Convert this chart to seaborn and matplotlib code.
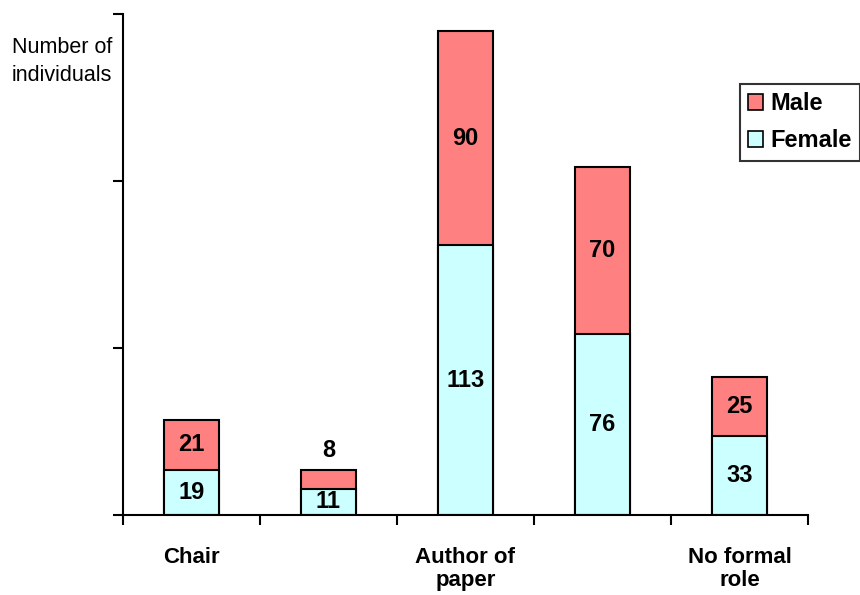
import matplotlib
matplotlib.use("Agg")
import matplotlib.pyplot as plt
import seaborn as sns
import pandas as pd
import numpy as np
from matplotlib.patches import Patch

# Roles and head counts by gender
roles = ["Chair", "", "Author of\npaper", "", "No formal\nrole"]
female = [19, 11, 113, 76, 33]
male = [21, 8, 90, 70, 25]
y_ticks = [0, 70, 140, 210]

MALE_COLOR = "#FF8080"
FEMALE_COLOR = "#CCFFFF"

sns.set_theme(style="white")
plt.rcParams["font.family"] = ["Liberation Sans", "DejaVu Sans"]
plt.rcParams["text.color"] = "black"
plt.rcParams["xtick.color"] = "black"
plt.rcParams["ytick.color"] = "black"

df = pd.DataFrame({
    "role": [f"r{i}" for i in range(len(roles))],
    "female": female,
    "male": male,
})
df["total"] = df["female"] + df["male"]

fig = plt.figure(figsize=(8.6, 5.95), dpi=100)
ax = fig.add_axes([0.143, 0.1345, 0.7965, 0.842])

# Stacked bars: full height in the male colour, female part drawn over it
sns.barplot(data=df, x="role", y="total", color=MALE_COLOR, width=0.4,
            edgecolor="black", linewidth=1.5, saturation=1, ax=ax)
sns.barplot(data=df, x="role", y="female", color=FEMALE_COLOR, width=0.4,
            edgecolor="black", linewidth=1.5, saturation=1, ax=ax)

ax.set_xlim(-0.5, len(roles) - 0.5)
ax.set_ylim(0, y_ticks[-1])
ax.set_yticks(y_ticks)
ax.set_yticklabels([])
ax.set_xticks(range(len(roles)))
ax.set_xticklabels(roles, fontsize=16, fontweight="bold", color="black",
                   linespacing=1.1)
ax.tick_params(axis="x", which="major", length=0, pad=23)
ax.set_xticks(np.arange(-0.5, len(roles)), minor=True)
ax.tick_params(axis="x", which="minor", length=7, width=1.5, color="black",
               direction="out", bottom=True)
ax.tick_params(axis="y", which="major", length=7, width=1.5, color="black",
               direction="out", left=True)
ax.set_xlabel("")
ax.set_ylabel("")
for side in ["top", "right"]:
    ax.spines[side].set_visible(False)
for side in ["left", "bottom"]:
    ax.spines[side].set_color("black")
    ax.spines[side].set_linewidth(1.5)

# Segment value labels
for i, (f, m) in enumerate(zip(female, male)):
    ax.text(i, f / 2, str(f), ha="center", va="center",
            fontsize=17, fontweight="bold", color="black")
    if m < 12:
        ax.text(i, f + m + 8, str(m), ha="center", va="center",
                fontsize=17, fontweight="bold", color="black")
    else:
        ax.text(i, f + m / 2, str(m), ha="center", va="center",
                fontsize=17, fontweight="bold", color="black")

fig.text(0.072, 0.896, "Number of\nindividuals", ha="center", va="center",
         fontsize=15.5, linespacing=1.45, color="black")

# Legend
handles = [Patch(facecolor=MALE_COLOR, edgecolor="black", linewidth=1.2),
           Patch(facecolor=FEMALE_COLOR, edgecolor="black", linewidth=1.2)]
leg = fig.legend(handles, ["Male", "Female"], loc="upper left",
                 bbox_to_anchor=(0.860, 0.859), frameon=True, fancybox=False,
                 edgecolor="black", prop={"weight": "bold", "size": 17},
                 handlelength=0.65, handleheight=0.65, handletextpad=0.3,
                 labelspacing=0.6, borderpad=0.35, borderaxespad=0)
leg.get_frame().set_linewidth(1.5)
for t in leg.get_texts():
    t.set_color("black")

fig.savefig("out.png", dpi=100)
